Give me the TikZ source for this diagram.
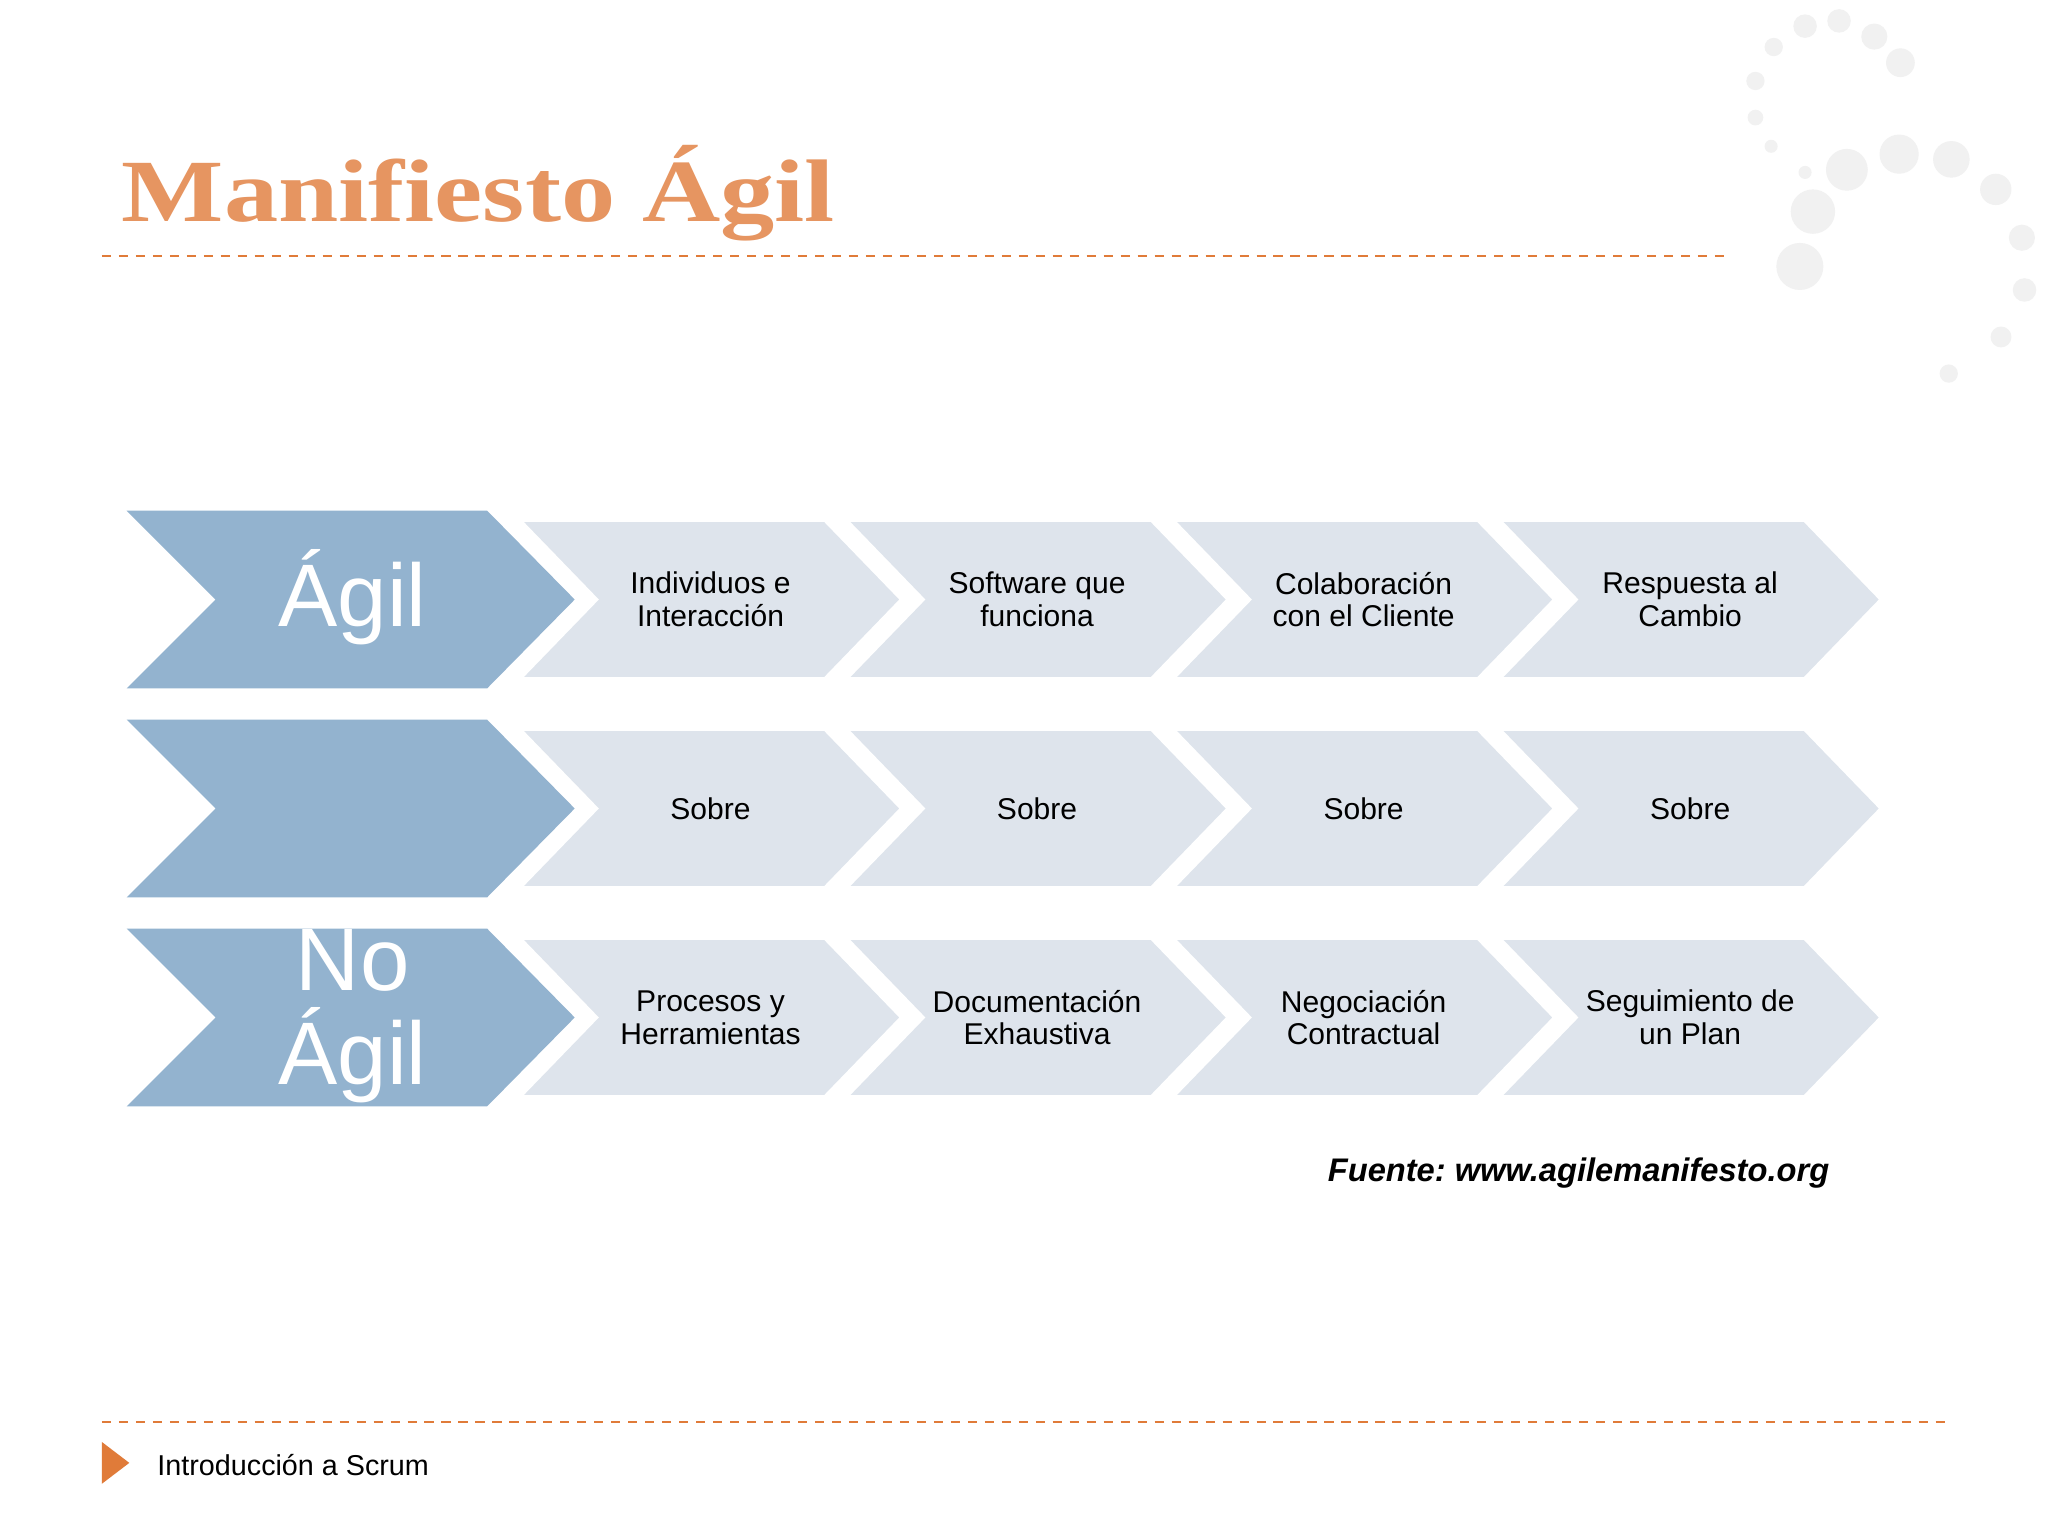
\documentclass[tikz,border=0pt]{standalone}
\usepackage{fontspec}
\setmainfont{Liberation Sans}
\newfontfamily\titlefont{Liberation Serif}
\begin{document}
\begin{tikzpicture}[x=1pt,y=-1pt]
\definecolor{bigc}{HTML}{93B3CF}
\definecolor{smc}{HTML}{DEE4EC}
\definecolor{orng}{HTML}{E07B39}
\definecolor{dots}{HTML}{F1F1F1}
\tikzset{
 dash line/.style={orng,line width=1.5pt,dash pattern=on 7pt off 6pt},
 txt/.style={font=\fontsize{23}{25}\selectfont,align=center,text=black},
 bigtxt/.style={font=\fontsize{68}{72}\selectfont,align=center,text=white},
}
\useasboundingbox (0,0) rectangle (1568,1176);
\fill[white] (0,0) rectangle (1568,1176);
% decorative dots
\foreach \x/\y/\r in {1382/20/9,1408/16/9,1435/28/10,1455/48/11,1358/36/7,1344/62/7,1344/90/6,1356/112/5,1382/132/5,1414/130/16,1454/118/15,1494/122/14,1528/145/12,1548/182/10,1550/222/9,1532/258/8,1492/286/7,1388/162/17,1378/204/18}
  \fill[dots] (\x,\y) circle (\r);
% title
\node[anchor=west,font=\titlefont\bfseries\fontsize{68}{68}\selectfont,text=orng!80,xscale=1.22,transform shape,inner sep=0pt] (title) at (93,148) {Manifiesto Ágil};
\draw[dash line] (78,196) -- (1322,196);
\draw[dash line] (78,1089) -- (1490,1089);
% rows
\foreach \r/\yc in {1/459,2/619,3/779}{
  \fill[bigc] (97,\yc-68) -- (373,\yc-68) -- (440,\yc) -- (373,\yc+68) -- (97,\yc+68) -- (165,\yc) -- cycle;
  \foreach \i in {0,1,2,3}{
    \path[fill=smc,draw=white,line width=5pt,line join=miter]
      (395+250*\i,\yc-62) -- (632+250*\i,\yc-62) -- (692+250*\i,\yc) -- (632+250*\i,\yc+62) -- (395+250*\i,\yc+62) -- (455+250*\i,\yc) -- cycle;
  }
}
\node[bigtxt] (agil) at (270,457) {Ágil};
\node[bigtxt] (noagil) at (270,778) {No\\Ágil};
\node[txt] (a1) at (544,459) {Individuos e\\Interacción};
\node[txt] (a2) at (794,459) {Software que\\funciona};
\node[txt] (a3) at (1044,459) {Colaboración\\con el Cliente};
\node[txt] (a4) at (1294,459) {Respuesta al\\Cambio};
\node[txt] (s1) at (544,619) {Sobre};
\node[txt] (s2) at (794,619) {Sobre};
\node[txt] (s3) at (1044,619) {Sobre};
\node[txt] (s4) at (1294,619) {Sobre};
\node[txt] (n1) at (544,779) {Procesos y\\Herramientas};
\node[txt] (n2) at (794,779) {Documentación\\Exhaustiva};
\node[txt] (n3) at (1044,779) {Negociación\\Contractual};
\node[txt] (n4) at (1294,779) {Seguimiento de\\un Plan};
\node[anchor=east,font=\bfseries\itshape\fontsize{25}{27}\selectfont] (src) at (1404,898) {Fuente:~www.agilemanifesto.org};
\fill[orng] (78,1104) -- (99,1120) -- (78,1136) -- cycle;
\node[anchor=west,font=\fontsize{22}{24}\selectfont] (foot) at (117,1122) {Introducción a Scrum};
\end{tikzpicture}
\end{document}
